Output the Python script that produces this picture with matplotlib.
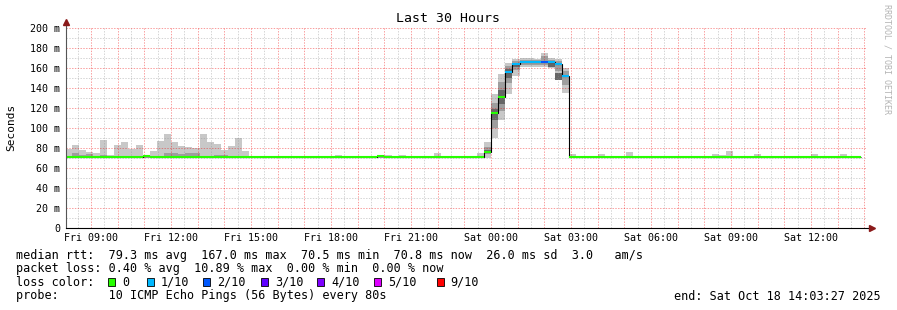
import numpy as np
import matplotlib
matplotlib.use('Agg')
import matplotlib.pyplot as plt
from matplotlib.patches import Rectangle

nan = np.nan

# time axis: hours counted from Fri 00:00, 16 minute bins starting Fri 08:00
t_start = 8.0 + 207 / 3600.0      # Fri 08:03:27
t_end = 38.0 + 207 / 3600.0       # Sat 14:03:27
bin_hours = 16 / 60.0
first_bin = 8.0

tick_hours = [9, 12, 15, 18, 21, 24, 27, 30, 33, 36]
tick_labels = ['Fri 09:00', 'Fri 12:00', 'Fri 15:00', 'Fri 18:00', 'Fri 21:00',
               'Sat 00:00', 'Sat 03:00', 'Sat 06:00', 'Sat 09:00', 'Sat 12:00']

# median rtt per bin (ms)
median = [
    70.8, 70.8, 70.8, 70.8, 70.8, 70.8, 70.8, 70.8, 70.8, 70.8,
    70.8, 72.0, 70.8, 70.8, 70.8, 70.8, 70.8, 70.8, 70.8, 70.8,
    70.8, 70.8, 70.8, 70.8, 70.8, 70.8, 70.8, 70.8, 70.8, 70.8,
    70.8, 70.8, 70.8, 70.8, 70.8, 70.8, 70.8, 70.8, 70.8, 70.8,
    70.8, 70.8, 70.8, 70.8, 72.5, 70.8, 70.8, 70.8, 70.8, 70.8,
    70.8, 70.8, 70.8, 70.8, 70.8, 70.8, 70.8, 70.8, 70.8, 76.3,
    115.0, 131.0, 156.0, 164.0, 166.0, 166.0, 166.0, 166.0, 166.0, 164.5,
    152.5, 71.5, 70.8, 70.8, 70.8, 70.8, 70.8, 70.8, 70.8, 70.8,
    70.8, 70.8, 70.8, 70.8, 70.8, 70.8, 70.8, 70.8, 70.8, 70.8,
    70.8, 70.8, 70.8, 70.8, 70.8, 70.8, 70.8, 70.8, 70.8, 70.8,
    70.8, 70.8, 70.8, 70.8, 70.8, 70.8, 70.8, 70.8, 70.8, 70.8,
    70.8, 70.8, nan,
]

# lost pings out of 10 per bin
loss = [
    0, 0, 0, 0, 0, 0, 0, 0, 0, 0,
    0, 0, 0, 0, 0, 0, 0, 0, 0, 0,
    0, 0, 0, 0, 0, 0, 0, 0, 0, 0,
    0, 0, 0, 0, 0, 0, 0, 0, 0, 0,
    0, 0, 0, 0, 0, 0, 0, 0, 0, 0,
    0, 0, 0, 0, 0, 0, 0, 0, 0, 0,
    0, 0, 1, 1, 1, 1, 1, 2, 1, 1,
    1, 0, 0, 0, 0, 0, 0, 0, 0, 0,
    0, 0, 0, 0, 0, 0, 0, 0, 0, 0,
    0, 0, 0, 0, 0, 0, 0, 0, 0, 0,
    0, 0, 0, 0, 0, 0, 0, 0, 0, 0,
    0, 0, 0,
]

# smoke: outer band (slowest / fastest ping)
smoke_hi = [
    79, 83, 78, 76, 75, 88, 73, 83, 86, 79,
    83, 73, 77, 87, 94, 86, 82, 81, 80, 94,
    86, 84, 78, 82, 90, 77, 71, 71, 71, 71,
    72, 71, 71, 71, 71, 71, 72, 71, 73, 71,
    72, 71, 71, 72, 73, 73, 71, 73, 71, 71,
    71, 71, 75, 71, 71, 71, 72, 72, 75, 86,
    134, 154, 165, 169, 170, 170, 169, 175, 170, 169,
    160, 74, 71, 71, 71, 74, 71, 71, 71, 76,
    71, 71, 71, 71, 71, 71, 71, 71, 71, 71,
    72, 74, 73, 77, 72, 71, 71, 74, 71, 72,
    71, 71, 71, 71, 71, 74, 71, 71, 71, 74,
    71, 71, nan,
]
smoke_lo = [
    70.3, 70.3, 70.3, 70.3, 70.3, 70.3, 70.3, 70.3, 70.3, 70.3,
    70.3, 70.3, 70.3, 70.3, 70.3, 70.3, 70.3, 70.3, 70.3, 70.3,
    70.3, 70.3, 70.3, 70.3, 70.3, 70.3, 70.3, 70.3, 70.3, 70.3,
    70.3, 70.3, 70.3, 70.3, 70.3, 70.3, 70.3, 70.3, 70.3, 70.3,
    70.3, 70.3, 70.3, 70.3, 70.3, 70.3, 70.3, 70.3, 70.3, 70.3,
    70.3, 70.3, 70.3, 70.3, 70.3, 70.3, 70.3, 70.3, 70.3, 70.5,
    90, 108, 134, 152, 161, 161, 161, 161, 160, 151,
    135, 70.3, 70.3, 70.3, 70.3, 70.3, 70.3, 70.3, 70.3, 70.3,
    70.3, 70.3, 70.3, 70.3, 70.3, 70.3, 70.3, 70.3, 70.3, 70.3,
    70.3, 70.3, 70.3, 70.3, 70.3, 70.3, 70.3, 70.3, 70.3, 70.3,
    70.3, 70.3, 70.3, 70.3, 70.3, 70.3, 70.3, 70.3, 70.3, 70.3,
    70.3, 70.3, nan,
]
# middle band
mid_hi = [
    72, 75, 73, 74, 71, 73, 72, 72, 71, 71,
    71, 72, 71, 72, 75, 75, 74, 75, 75, 71,
    71, 73, 73, 71, 71, 71, 71, 71, 71, 71,
    71, 71, 71, 71, 71, 71, 71, 71, 71, 71,
    71, 71, 71, 71, 71, 71, 71, 71, 71, 71,
    71, 71, 71, 71, 71, 71, 71, 71, 71, 81,
    125, 146, 162, 167, 168, 168, 168, 172, 168, 167,
    157, 71, 71, 71, 71, 71, 71, 71, 71, 71,
    71, 71, 71, 71, 71, 71, 71, 71, 71, 71,
    71, 71, 71, 71, 71, 71, 71, 71, 71, 71,
    71, 71, 71, 71, 71, 71, 71, 71, 71, 71,
    71, 71, nan,
]
mid_lo = [
    70.5, 70.5, 70.5, 70.5, 70.5, 70.5, 70.5, 70.5, 70.5, 70.5,
    70.5, 70.5, 70.5, 70.5, 70.5, 70.5, 70.5, 70.5, 70.5, 70.5,
    70.5, 70.5, 70.5, 70.5, 70.5, 70.5, 70.5, 70.5, 70.5, 70.5,
    70.5, 70.5, 70.5, 70.5, 70.5, 70.5, 70.5, 70.5, 70.5, 70.5,
    70.5, 70.5, 70.5, 70.5, 70.5, 70.5, 70.5, 70.5, 70.5, 70.5,
    70.5, 70.5, 70.5, 70.5, 70.5, 70.5, 70.5, 70.5, 70.5, 74,
    100, 117, 145, 158, 163, 163, 163, 163, 163, 157,
    143, 70.5, 70.5, 70.5, 70.5, 70.5, 70.5, 70.5, 70.5, 70.5,
    70.5, 70.5, 70.5, 70.5, 70.5, 70.5, 70.5, 70.5, 70.5, 70.5,
    70.5, 70.5, 70.5, 70.5, 70.5, 70.5, 70.5, 70.5, 70.5, 70.5,
    70.5, 70.5, 70.5, 70.5, 70.5, 70.5, 70.5, 70.5, 70.5, 70.5,
    70.5, 70.5, nan,
]
# inner band, only where the spread is wide (bins 59-70)
core_hi = [nan] * 59 + [78, 119, 138, 159, 165, nan, nan, nan, nan, 165, 155] + [nan] * 43
core_lo = [nan] * 59 + [75, 108, 124, 150, 161, nan, nan, nan, nan, 161, 148] + [nan] * 43

loss_colors = {0: '#26ff00', 1: '#00b8ff', 2: '#0059ff', 3: '#5e00ff',
               4: '#7e00ff', 5: '#dd00ff', 9: '#ff0000'}
legend_keys = [0, 1, 2, 3, 4, 5, 9]
legend_names = ['0', '1/10', '2/10', '3/10', '4/10', '5/10', '9/10']

W, H = 897, 310
MONO = 'DejaVu Sans Mono'


def fx(x):
    return x / W


def fy(y):
    return 1 - y / H


fig = plt.figure(figsize=(W / 100, H / 100), dpi=100, facecolor='white')
ax = fig.add_axes([fx(66), fy(228), 800 / W, 200 / H])
ax.set_xlim(t_start, t_end)
ax.set_ylim(0, 200)
for s in ax.spines.values():
    s.set_visible(False)

n = len(median)
starts = first_bin + np.arange(n) * bin_hours
edges = first_bin + np.arange(n + 1) * bin_hours


def band(lo, hi, color):
    lo = np.array(lo, float)
    hi = np.array(hi, float)
    ok = ~np.isnan(lo) & ~np.isnan(hi)
    ax.bar(starts[ok], hi[ok] - lo[ok], bottom=lo[ok], width=bin_hours,
           align='edge', color=color, linewidth=0, zorder=1)


band(smoke_lo, smoke_hi, '#c8c8c8')
band(mid_lo, mid_hi, '#9e9e9e')
band(core_lo, core_hi, '#666666')

# grid drawn above the smoke like rrdtool does
red = (0.94, 0.0, 0.0, 0.38)
grey = (0.56, 0.56, 0.56, 0.38)
dash = (0, (1.4, 1.4))
for h in np.arange(8.5, 38.01, 0.5):
    col = red if h == int(h) else grey
    ax.axvline(h, color=col, lw=0.72, ls=dash, zorder=2)
for v in range(10, 201, 10):
    col = red if v % 20 == 0 else grey
    ax.axhline(v, color=col, lw=0.72, ls=dash, zorder=2)

# median line: thin black steps, then coloured by loss
med = np.array(median, float)
ok = ~np.isnan(med)
last = np.where(ok)[0][-1] + 1
ax.stairs(med[:last], edges[:last + 1], baseline=None, color='black', lw=0.8, zorder=3)
ax.hlines(med[ok], edges[:-1][ok], edges[1:][ok],
          colors=[loss_colors[l] for l, k in zip(loss, ok) if k], lw=1.5, zorder=4)

# axes with arrows
ax.plot([0, 0], [0, 1.03], transform=ax.transAxes, color='#555555', lw=0.8, clip_on=False, zorder=5)
ax.plot([0, 1.006], [0, 0], transform=ax.transAxes, color='black', lw=0.8, clip_on=False, zorder=5)
ax.plot(0, 1.03, marker='^', ms=4, color='#8b1a1a', transform=ax.transAxes, clip_on=False, zorder=6)
ax.plot(1.008, 0, marker='>', ms=4, color='#8b1a1a', transform=ax.transAxes, clip_on=False, zorder=6)

ax.set_yticks(range(0, 201, 20))
ax.set_yticklabels(['0' if v == 0 else '%d m' % v for v in range(0, 201, 20)],
                   family=MONO, fontsize=7.2)
ax.set_xticks(tick_hours)
ax.set_xticklabels(tick_labels, family=MONO, fontsize=7.2)
ax.tick_params(axis='y', length=0, pad=4.3)
ax.tick_params(axis='x', length=0, pad=3.6)

fig.text(fx(448), fy(19), 'Last 30 Hours', ha='center', va='center', family=MONO, fontsize=9.5)
fig.text(fx(11), fy(127), 'Seconds', rotation=90, ha='center', va='center', family=MONO, fontsize=8)
fig.text(fx(887), fy(4), 'RRDTOOL / TOBI OETIKER', rotation=270, ha='center', va='top',
         family=MONO, fontsize=6, color='#b4b4b4')

rows = [
    'median rtt:  79.3 ms avg  167.0 ms max  70.5 ms min  70.8 ms now  26.0 ms sd  3.0   am/s',
    'packet loss: 0.40 % avg  10.89 % max  0.00 % min  0.00 % now',
    'loss color:',
    'probe:       10 ICMP Echo Pings (56 Bytes) every 80s',
]
row_y = [255, 268.5, 282, 296]
for txt, y in zip(rows, row_y):
    fig.text(fx(16), fy(y), txt, ha='left', va='center', family=MONO, fontsize=8.5)
fig.text(fx(881), fy(296), 'end: Sat Oct 18 14:03:27 2025', ha='right', va='center',
         family=MONO, fontsize=8.5)

box_x = [108, 146.7, 203, 260.7, 317, 374, 436.7]
for bx, key, name in zip(box_x, legend_keys, legend_names):
    fig.add_artist(Rectangle((fx(bx), fy(285.5)), 7 / W, 8 / H, transform=fig.transFigure,
                             facecolor=loss_colors[key], edgecolor='black', lw=0.6))
    fig.text(fx(bx + 14), fy(282), name, ha='left', va='center', family=MONO, fontsize=8.5)

fig.savefig('out.png', dpi=100, facecolor='white')
